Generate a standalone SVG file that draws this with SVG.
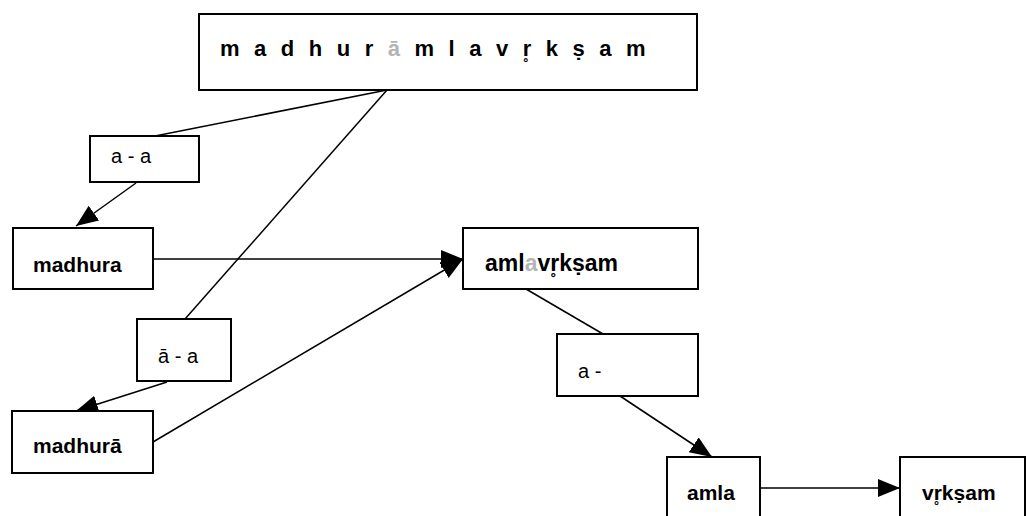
<svg xmlns="http://www.w3.org/2000/svg" width="1026" height="516" viewBox="0 0 1026 516">
<style>
.box{fill:#fff;stroke:#000;stroke-width:2}
.b{font-family:"Liberation Sans",Arial,sans-serif;font-weight:bold;font-size:21px;fill:#000}
.r{font-family:"Liberation Sans",Arial,sans-serif;font-size:20px;fill:#000}
.g{fill:#b4b4b4}
.c{stroke:#000;stroke-width:1.5;fill:none}
</style>
<defs>
<marker id="ah" markerWidth="24" markerHeight="20" refX="22" refY="9" orient="auto" markerUnits="userSpaceOnUse">
<path d="M0,0 L22,9 L0,18 Z" fill="#000"/>
</marker>
</defs>
<rect width="1026" height="516" fill="#fff"/>
<g id="connectors">
<line class="c" x1="387" y1="90" x2="155" y2="136"/>
<line class="c" x1="387" y1="90" x2="185" y2="319"/>
<line class="c" x1="136" y1="183" x2="76" y2="226" marker-end="url(#ah)"/>
<line class="c" x1="167" y1="382" x2="76" y2="411" marker-end="url(#ah)"/>
<line class="c" x1="153" y1="259" x2="463" y2="259" marker-end="url(#ah)"/>
<line class="c" x1="153" y1="442" x2="463" y2="259" marker-end="url(#ah)"/>
<line class="c" x1="526" y1="289" x2="603" y2="334"/>
<line class="c" x1="620" y1="396" x2="712" y2="457" marker-end="url(#ah)"/>
<line class="c" x1="760" y1="488" x2="900" y2="488" marker-end="url(#ah)"/>
</g>
<g id="n-top">
<rect class="box" x="199" y="14" width="498" height="76"/>
<text class="b" x="220" y="56" style="font-size:22px;letter-spacing:4.2px">m a d h u r <tspan class="g">ā</tspan> m l a v r̥ k ṣ a m</text>
</g>
<g id="n-aa">
<rect class="box" x="90" y="136" width="109" height="46"/>
<text class="r" x="111" y="163">a - a</text>
</g>
<g id="n-madhura">
<rect class="box" x="13" y="228" width="140" height="61"/>
<text class="b" x="33" y="272">madhura</text>
</g>
<g id="n-aa2">
<rect class="box" x="137" y="319" width="94" height="62"/>
<text class="r" x="158" y="363">ā - a</text>
</g>
<g id="n-madhuraa">
<rect class="box" x="12" y="411" width="141" height="62"/>
<text class="b" x="33" y="453">madhurā</text>
</g>
<g id="n-amlavrksam">
<rect class="box" x="463" y="228" width="235" height="61"/>
<text class="b" x="485" y="271" style="font-size:23px">aml<tspan class="g">a</tspan>vr̥kṣam</text>
</g>
<g id="n-a">
<rect class="box" x="557" y="334" width="141" height="62"/>
<text class="r" x="578" y="378">a -</text>
</g>
<g id="n-amla">
<rect class="box" x="667" y="457" width="93" height="70"/>
<text class="b" x="687" y="500">amla</text>
</g>
<g id="n-vrksam">
<rect class="box" x="900" y="457" width="125" height="70"/>
<text class="b" x="922" y="500">vr̥kṣam</text>
</g>
</svg>
